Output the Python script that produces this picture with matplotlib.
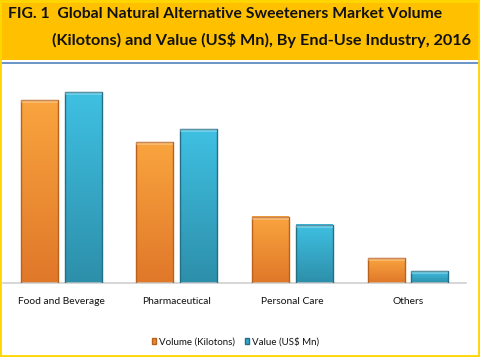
import numpy as np
import matplotlib.pyplot as plt
from matplotlib.patches import Rectangle
import matplotlib.colors as mcolors

# data (no axis shown, relative heights)
categories = ['Food and Beverage', 'Pharmaceutical', 'Personal Care', 'Others']
volume = [182.7, 141.0, 66.0, 24.7]
value = [190.7, 153.7, 58.0, 12.0]
series_names = ['Volume (Kilotons)', 'Value (US$ Mn)']

plt.rcParams['font.family'] = ['Lato', 'DejaVu Sans']

W, H = 480, 357
fig = plt.figure(figsize=(W / 100, H / 100), dpi=100)

# header band
fig.patches.append(Rectangle((0, 1 - 60 / H), 1, 60 / H, transform=fig.transFigure,
                             facecolor='#FFC000', edgecolor='none', zorder=0))
fig.lines.append(plt.Line2D([0, 1], [1 - 62.5 / H] * 2, transform=fig.transFigure,
                            color='#4F81BD', lw=1.2))
# outer yellow border
fig.patches.append(Rectangle((0.001, 0.002), 0.997, 0.996, transform=fig.transFigure,
                             facecolor='none', edgecolor='#FFD700', lw=2, zorder=5))

t1 = fig.text(8 / W, 1 - 18.5 / H, 'FIG. 1  Global Natural Alternative Sweeteners Market Volume',
              fontsize=12, fontweight='bold', color='#111111', va='baseline', ha='left')
t2 = fig.text(52 / W, 1 - 45.5 / H, '(Kilotons) and Value (US$ Mn), By End-Use Industry, 2016',
              fontsize=12, fontweight='bold', color='#111111', va='baseline', ha='left')

# shrink title lines to the width they take in the original
r = fig.canvas.get_renderer()
for t, target in [(t1, 430), (t2, 417)]:
    w = t.get_window_extent(r).width
    t.set_fontsize(12 * target / w)

ax = fig.add_axes([3.4 / W, 74.3 / H, 462.4 / W, 212.7 / H])
for s in ['top', 'right', 'left']:
    ax.spines[s].set_visible(False)
ax.spines['bottom'].set_color('#d0d0d0')
ax.spines['bottom'].set_linewidth(1.2)
ax.set_yticks([])
ax.set_xticks(range(len(categories)))
ax.set_xticklabels(categories, fontsize=7.4, color='#111111')
ax.tick_params(axis='x', length=0, pad=10)

x = np.arange(len(categories))
bw = 0.32
off = 0.19


def grad_bar(xc, h, top, bottom, edge):
    cmap = mcolors.LinearSegmentedColormap.from_list('g', [bottom, top])
    grad = np.linspace(1, 0, 100).reshape(-1, 1)
    ax.imshow(grad, cmap=cmap, aspect='auto', vmin=0, vmax=1,
              extent=(xc - bw / 2, xc + bw / 2, 0, h), zorder=2)
    ax.add_patch(Rectangle((xc - bw / 2, 0), bw, h, facecolor='none',
                           edgecolor=edge, lw=1.0, zorder=3))
    # light bevel along the top edge
    ax.add_patch(Rectangle((xc - bw / 2, h - 3), bw, 3, facecolor='white',
                           alpha=0.25, edgecolor='none', zorder=3))


for i in range(len(categories)):
    grad_bar(x[i] - off, volume[i], '#F9A43E', '#E0782A', '#B8621E')
    grad_bar(x[i] + off, value[i], '#3FC0E2', '#2D8FAA', '#246E86')

ax.set_xlim(-0.5, 3.5)
ax.set_ylim(0, 212.7)

h1 = Rectangle((0, 0), 1, 1, facecolor='#E88A30', edgecolor='#B8621E')
h2 = Rectangle((0, 0), 1, 1, facecolor='#35A8CC', edgecolor='#246E86')
fig.legend([h1, h2], series_names, loc='center', bbox_to_anchor=(235.5 / W, 1 - 342 / H),
           ncol=2, frameon=False, fontsize=7, handlelength=0.45, handleheight=0.6,
           handletextpad=0.3, columnspacing=1.0, labelcolor='#111111')

fig.savefig('out.png', dpi=100)
